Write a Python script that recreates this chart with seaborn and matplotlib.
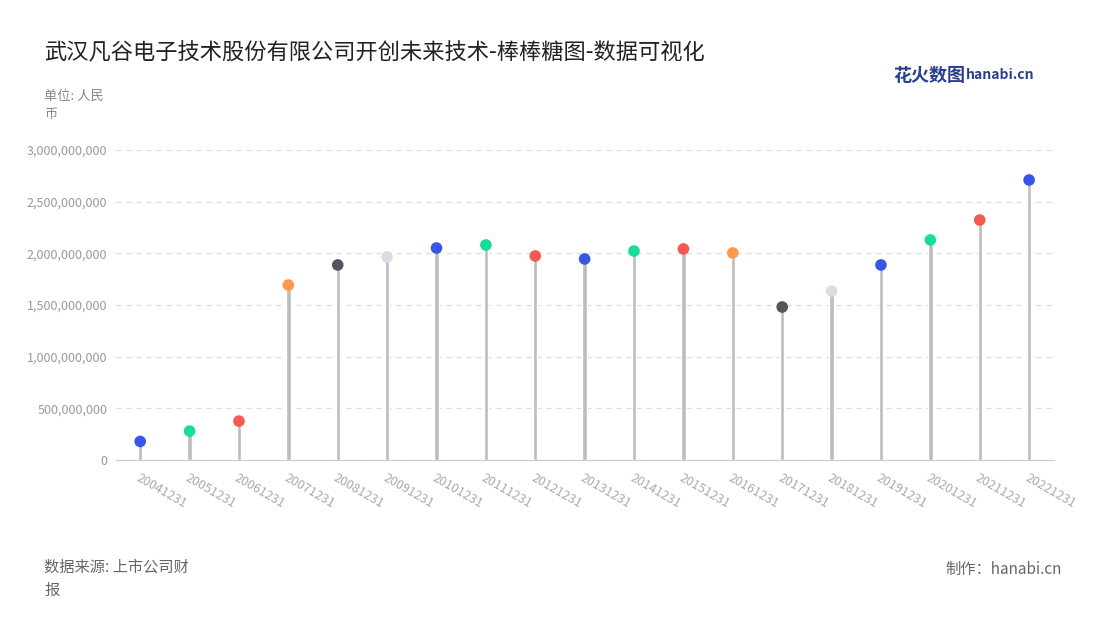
import matplotlib
matplotlib.use("Agg")
import matplotlib.pyplot as plt
import seaborn as sns
import pandas as pd

years = ["20041231", "20051231", "20061231", "20071231", "20081231", "20091231",
         "20101231", "20111231", "20121231", "20131231", "20141231", "20151231",
         "20161231", "20171231", "20181231", "20191231", "20201231", "20211231",
         "20221231"]
values = [180e6, 280e6, 377e6, 1694e6, 1888e6, 1965e6, 2052e6, 2081e6, 1975e6,
          1946e6, 2023e6, 2043e6, 2004e6, 1481e6, 1636e6, 1888e6, 2130e6,
          2323e6, 2710e6]
dot_colors = ["#3656e8", "#19dc9a", "#f45a52", "#ff9a4d", "#55545f", "#dcdce8",
              "#3656e8", "#19dc9a", "#f45a52", "#3656e8", "#19dc9a", "#f45a52",
              "#ff9a4d", "#55545f", "#dcdce8", "#3656e8", "#19dc9a", "#f45a52",
              "#3656e8"]

df = pd.DataFrame({"year": years, "value": values})

sns.set_style("white")
plt.rcParams['font.family'] = ['Noto Sans CJK SC', 'DejaVu Sans']

fig = plt.figure(figsize=(11, 6.2), dpi=100)
ax = fig.add_axes([0.105, 0.258, 0.853, 0.5])

# stems
sns.barplot(data=df, x="year", y="value", color="#bdbdbd", width=0.09, ax=ax,
            saturation=1)
# heads
sns.scatterplot(data=df, x="year", y="value", hue="year", palette=dot_colors,
                s=70, legend=False, ax=ax, zorder=5, edgecolor="none")

ax.set_ylim(0, 3e9)
ax.set_xlim(-0.5, len(years) - 0.5)
ax.set_yticks([i * 5e8 for i in range(7)])
ax.set_yticklabels([f"{int(v):,}" for v in ax.get_yticks()], color="#999999", fontsize=9)
ax.set_xticks(range(len(years)))
ax.set_xticklabels(years, rotation=-30, ha="left", rotation_mode="anchor",
                   color="#aaaaaa", fontsize=9)
ax.tick_params(axis="both", length=0, pad=6)
ax.tick_params(axis="x", pad=8)
ax.set_xlabel("")
ax.set_ylabel("")
ax.grid(axis="y", linestyle=(0, (4, 4)), color="#dddddd", linewidth=0.9)
ax.set_axisbelow(True)
for s in ["top", "right", "left"]:
    ax.spines[s].set_visible(False)
ax.spines["bottom"].set_color("#cccccc")

fig.text(0.04, 0.905, "武汉凡谷电子技术股份有限公司开创未来技术-棒棒糖图-数据可视化",
         fontsize=16, color="#222222")
fig.text(0.04, 0.81, "单位: 人民\n币", fontsize=9.5, color="#888888", linespacing=1.5)
fig.text(0.04, 0.04, "数据来源: 上市公司财\n报", fontsize=11, color="#666666", linespacing=1.5)
fig.text(0.965, 0.075, "制作：hanabi.cn", fontsize=11, color="#666666", ha="right")
fig.text(0.812, 0.87, "花火数图", fontsize=13, color="#2a3f8f", fontweight="bold")
fig.text(0.878, 0.873, "hanabi.cn", fontsize=10, color="#2a3f8f", fontweight="bold")

fig.savefig("out.png", dpi=100, facecolor="white")
